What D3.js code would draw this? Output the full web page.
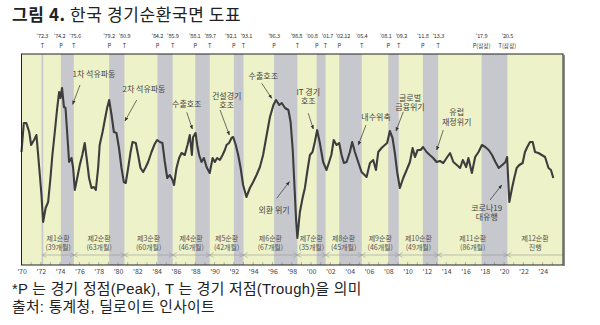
<!DOCTYPE html>
<html><head><meta charset="utf-8">
<script src="https://cdn.jsdelivr.net/npm/d3@7"></script>
<style>
html,body{margin:0;padding:0;background:#fff;}
svg{display:block;font-family:"Noto Sans CJK KR","Noto Sans",sans-serif;}
</style></head>
<body>
<svg id="chart" width="600" height="325"></svg>
<script>
// ---- data ----
const indexYears = [1970.00,1970.24,1970.50,1970.80,1971.00,1971.30,1971.55,1971.70,1971.90,1972.07,1972.24,1972.50,1972.76,1973.00,1973.20,1973.45,1973.70,1973.90,1974.04,1974.20,1974.40,1974.56,1974.70,1974.93,1975.18,1975.35,1975.52,1975.77,1976.04,1976.30,1976.55,1976.80,1977.00,1977.25,1977.50,1977.70,1977.94,1978.10,1978.40,1978.63,1978.87,1979.08,1979.33,1979.57,1979.84,1980.10,1980.36,1980.60,1980.80,1981.05,1981.30,1981.50,1981.84,1982.08,1982.33,1982.60,1982.88,1983.12,1983.47,1983.80,1984.05,1984.33,1984.60,1984.85,1985.10,1985.37,1985.65,1985.80,1986.06,1986.33,1986.58,1986.92,1987.20,1987.44,1987.65,1987.78,1988.03,1988.20,1988.40,1988.65,1988.90,1989.17,1989.50,1989.80,1990.03,1990.27,1990.55,1990.83,1991.07,1991.24,1991.50,1991.76,1991.93,1992.20,1992.45,1992.70,1992.96,1993.30,1993.66,1994.00,1994.35,1994.70,1995.03,1995.40,1995.74,1996.10,1996.37,1996.70,1996.96,1997.30,1997.65,1997.88,1998.10,1998.30,1998.45,1998.58,1998.84,1999.12,1999.36,1999.60,1999.88,2000.15,2000.39,2000.63,2000.91,2001.25,2001.60,2001.87,2002.10,2002.35,2002.64,2002.91,2003.16,2003.40,2003.68,2004.02,2004.26,2004.54,2004.88,2005.23,2005.75,2006.10,2006.44,2006.72,2006.96,2007.30,2007.64,2007.88,2008.16,2008.44,2008.68,2008.92,2009.20,2009.55,2009.90,2010.24,2010.52,2010.76,2011.04,2011.35,2011.60,2011.97,2012.30,2012.65,2013.00,2013.35,2013.70,2014.04,2014.40,2014.74,2015.10,2015.44,2015.72,2016.07,2016.30,2016.66,2017.00,2017.35,2017.70,2018.05,2018.40,2018.75,2019.10,2019.44,2019.80,2020.14,2020.31,2020.54,2020.82,2021.05,2021.30,2021.57,2021.92,2022.16,2022.40,2022.68,2022.96,2023.20,2023.55,2023.90,2024.24,2024.60,2024.85,2025.10];
const indexValues = [101.3,104.2,104.2,103.3,102.0,102.5,103.0,101.3,99.0,97.0,94.3,95.7,96.3,98.7,101.0,103.3,105.7,107.3,106.7,107.7,105.8,105.7,103.7,100.3,100.7,99.7,97.5,98.7,100.0,101.0,102.2,100.3,98.7,97.7,97.8,97.5,99.7,102.0,103.3,104.5,105.7,106.5,105.0,103.3,103.2,101.7,99.7,98.3,98.2,99.7,101.3,102.3,102.2,101.0,99.7,99.3,99.8,100.3,101.3,102.1,102.5,102.3,102.2,100.3,98.7,99.0,98.5,98.0,99.7,100.7,101.2,101.0,102.0,103.0,101.0,102.8,103.2,102.0,101.0,100.3,100.7,99.8,99.2,100.7,100.3,100.7,100.5,101.0,101.5,102.0,102.2,102.7,102.8,102.0,101.0,99.7,98.0,96.8,97.7,98.3,99.0,99.8,101.0,103.0,104.8,106.0,106.5,106.0,106.2,105.7,105.5,104.3,101.5,97.5,94.5,92.7,95.3,96.7,97.7,99.3,101.0,101.3,102.3,103.5,102.2,100.3,99.5,100.3,101.0,102.5,102.0,102.2,101.0,100.2,100.3,101.3,102.3,101.3,100.3,99.3,98.8,100.2,100.5,99.5,101.3,101.7,102.0,102.2,103.4,102.7,101.2,99.3,97.7,98.7,99.5,100.3,101.7,100.8,101.5,101.5,101.8,101.3,101.0,100.7,100.3,100.4,100.2,100.7,101.2,100.3,100.0,99.7,100.5,99.8,100.7,99.2,100.8,101.3,102.0,101.8,101.5,101.0,100.3,99.7,100.0,100.3,100.8,96.3,97.7,98.7,99.7,100.0,100.2,101.3,101.8,102.3,102.3,101.3,101.2,101.0,100.8,99.7,99.5,98.7];

// turning points (year, month, label, type)
const turnYears  = [1972,1974,1975,1979,1980,1984,1985,1988,1989,1992,1993,1996,1998,2000,2001,2002,2005,2008,2009,2011,2013,2017,2020];
const turnMonths = [3,2,6,2,9,2,9,1,7,1,1,3,8,8,7,12,4,1,2,8,3,9,5];
const turnLabels = ["'72.3","'74.2","'75.6","'79.2","'80.9","'84.2","'85.9","'88.1","'89.7","'92.1","'93.1","'96.3","'98.8","'00.8","'01.7","'02.12","'05.4","'08.1","'09.2","'11.8","'13.3","'17.9","'20.5"];
const turnTypes  = ["T","P","T","P","T","P","T","P","T","P","T","P","T","P","T","P","T","P","T","P","T","P(잠정)","T(잠정)"];

// cycles
const cycleNames  = ["제1순환","제2순환","제3순환","제4순환","제5순환","제6순환","제7순환","제8순환","제9순환","제10순환","제11순환","제12순환"];
const cycleMonths = ["(39개월)","(63개월)","(60개월)","(46개월)","(42개월)","(67개월)","(35개월)","(45개월)","(46개월)","(49개월)","(86개월)","진행"];

// x-axis tick labels
const xTickYears = d3.range(1970, 2025, 2);

// annotations: text lines, text anchor (year,value), arrow from -> to (year,value)
const noteTexts = [["1차 석유파동"],["2차 석유파동"],["수출호조"],["건설경기","호조"],["수출호조"],["외환 위기"],["IT 경기","호조"],["내수위축"],["글로벌","금융위기"],["유럽","재정위기"],["코로나19","대유행"]];
const noteAt    = [[1977.51,109.07],[1982.69,107.6],[1987.12,106.07],[1991.26,106.93],[1995.05,108.93],[1996.16,95.5],[1999.71,107.33],[2006.73,104.83],[2010.25,106.73],[2015.09,105.27],[2018.2,95.73]];
const noteFrom  = [[1976.06,108.0],[1981.94,106.5],[1987.12,105.27],[1990.57,105.5],[1994.89,108.17],[1996.44,96.67],[1999.71,105.17],[2005.69,104.0],[2009.56,105.33],[2013.70,103.5],[2018.54,96.5]];
const noteTo    = [[1975.30,106.07],[1980.72,104.4],[1987.70,103.6],[1991.53,103.0],[1995.92,106.67],[1997.75,98.33],[2000.23,103.6],[2004.89,102.0],[2008.80,103.4],[2013.02,101.5],[2019.75,98.0]];

const titleText = "한국 경기순환국면 도표";
const footNotes = ["*P 는 경기 정점(Peak), T 는 경기 저점(Trough)을 의미","출처: 통계청, 딜로이트 인사이트"];

// ---- drawing ----
const svg = d3.select("#chart");
const L = 21.5, R = 563, T = 54, B = 265;
const x = d3.scaleLinear().domain([1970, 2026.1]).range([L, R]);
const y = d3.scaleLinear().domain([90, 111.1]).range([B, T]);
const tDate = turnYears.map((yr, i) => yr + (turnMonths[i] - 1) / 12);

// title
const title = svg.append("text").attr("x", 12).attr("y", 21)
  .attr("font-size", 17).attr("letter-spacing", 0.6).attr("fill", "#222");
title.append("tspan").attr("font-weight", "bold").text("그림 4.");
title.append("tspan").text(" " + titleText);

// background (expansion)
svg.append("rect").attr("x", L).attr("y", T).attr("width", R - L).attr("height", B - T).attr("fill", "#eef2c8");

// contraction bands P -> T
const bands = [];
for (let i = 0; i < tDate.length - 1; i++) if (turnTypes[i].startsWith("P")) bands.push([tDate[i], tDate[i + 1]]);
svg.append("g").selectAll("rect").data(bands).join("rect")
  .attr("x", d => x(d[0])).attr("y", T).attr("width", d => x(d[1]) - x(d[0])).attr("height", B - T)
  .attr("fill", "#c7c8cd");
// first trough marker line
svg.append("rect").attr("x", x(tDate[0]) - 0.8).attr("y", T).attr("width", 1.6).attr("height", B - T).attr("fill", "#c7c8cd");

// year ticks inside bottom
svg.append("g").selectAll("line").data(d3.range(1971, 2026)).join("line")
  .attr("x1", d => x(d)).attr("x2", d => x(d)).attr("y1", B).attr("y2", B - 3)
  .attr("stroke", "#888").attr("stroke-width", 0.6);

// cycle labels and arrows
const troughs = tDate.filter((d, i) => turnTypes[i].startsWith("T"));
const cycles = cycleNames.map((n, i) => ({ name: n, months: cycleMonths[i], a: troughs[i], b: i + 1 < troughs.length ? troughs[i + 1] : 2026.1 }));
const cg = svg.append("g").attr("font-size", 7).attr("fill", "#555").attr("text-anchor", "middle");
cycles.forEach((c, i) => {
  const xa = x(c.a), xb = x(c.b), xm = (xa + xb) / 2;
  cg.append("text").attr("x", xm).attr("y", 240.5).text(c.name);
  cg.append("text").attr("x", xm).attr("y", 250).text(c.months);
  const ay = 255;
  cg.append("line").attr("x1", xa).attr("x2", xb).attr("y1", ay).attr("y2", ay).attr("stroke", "#999").attr("stroke-width", 0.6);
  cg.append("path").attr("d", `M${xa + 4},${ay - 2.5}L${xa},${ay}L${xa + 4},${ay + 2.5}`).attr("fill", "none").attr("stroke", "#999").attr("stroke-width", 0.6);
  if (i + 1 < troughs.length)
    cg.append("path").attr("d", `M${xb - 4},${ay - 2.5}L${xb},${ay}L${xb - 4},${ay + 2.5}`).attr("fill", "none").attr("stroke", "#999").attr("stroke-width", 0.6);
});

// index line
const pts = indexYears.map((yr, i) => [yr, indexValues[i]]);
svg.append("path").datum(pts)
  .attr("d", d3.line().x(d => x(d[0])).y(d => y(d[1])))
  .attr("fill", "none").attr("stroke", "#3d3d3d").attr("stroke-width", 2.1).attr("stroke-linejoin", "round");

// annotations
svg.append("defs").append("marker").attr("id", "ah").attr("viewBox", "0 0 10 10")
  .attr("refX", 9).attr("refY", 5).attr("markerWidth", 6).attr("markerHeight", 6).attr("orient", "auto")
  .append("path").attr("d", "M0,1L10,5L0,9z").attr("fill", "#333");
const ag = svg.append("g").attr("font-size", 8).attr("fill", "#444").attr("text-anchor", "middle");
noteTexts.forEach((lines, i) => {
  lines.forEach((t, j) => {
    ag.append("text").attr("x", x(noteAt[i][0])).attr("y", y(noteAt[i][1]) + 3 + j * 9.5).text(t);
  });
  ag.append("line").attr("x1", x(noteFrom[i][0])).attr("y1", y(noteFrom[i][1]))
    .attr("x2", x(noteTo[i][0])).attr("y2", y(noteTo[i][1]))
    .attr("stroke", "#333").attr("stroke-width", 0.7).attr("marker-end", "url(#ah)");
});

// frame
svg.append("rect").attr("x", L).attr("y", T).attr("width", R - L).attr("height", B - T)
  .attr("fill", "none").attr("stroke", "#222").attr("stroke-width", 1);
svg.append("line").attr("x1", R + 1).attr("x2", R + 1).attr("y1", T + 1).attr("y2", B + 1).attr("stroke", "#666").attr("stroke-width", 1.5);

// top turning-point labels (spread apart where crowded)
const tg = svg.append("g").attr("font-size", 5.6).attr("fill", "#333").attr("text-anchor", "middle");
const labX = tDate.map(d => x(d));
const minGap = 15.5;
for (let pass = 0; pass < 60; pass++) {
  for (let i = 0; i < labX.length - 1; i++) {
    const gap = labX[i + 1] - labX[i];
    if (gap < minGap) { const s = (minGap - gap) / 2; labX[i] -= s; labX[i + 1] += s; }
  }
}
tDate.forEach((d, i) => {
  tg.append("text").attr("x", labX[i]).attr("y", 38).attr("letter-spacing", -0.15).text(turnLabels[i]);
  tg.append("text").attr("x", x(d)).attr("y", 48).text(turnTypes[i]);
});

// x axis labels
const xa = svg.append("g").attr("transform", `translate(0,${B})`)
  .call(d3.axisBottom(x).tickValues(xTickYears).tickFormat(d => "'" + String(d).slice(2)).tickSize(0).tickPadding(4));
xa.select(".domain").remove();
xa.selectAll("text").attr("font-size", 7).attr("fill", "#444").attr("font-family", "'Noto Sans CJK KR',sans-serif");

// footnotes
footNotes.forEach((t, i) => {
  svg.append("text").attr("x", 12).attr("y", 293.5 + i * 18.5).attr("font-size", 14.8)
    .attr("font-family", "'Liberation Sans','Noto Sans CJK KR',sans-serif")
    .attr("letter-spacing", 0.3).attr("fill", "#222").text(t);
});
</script>
</body></html>
